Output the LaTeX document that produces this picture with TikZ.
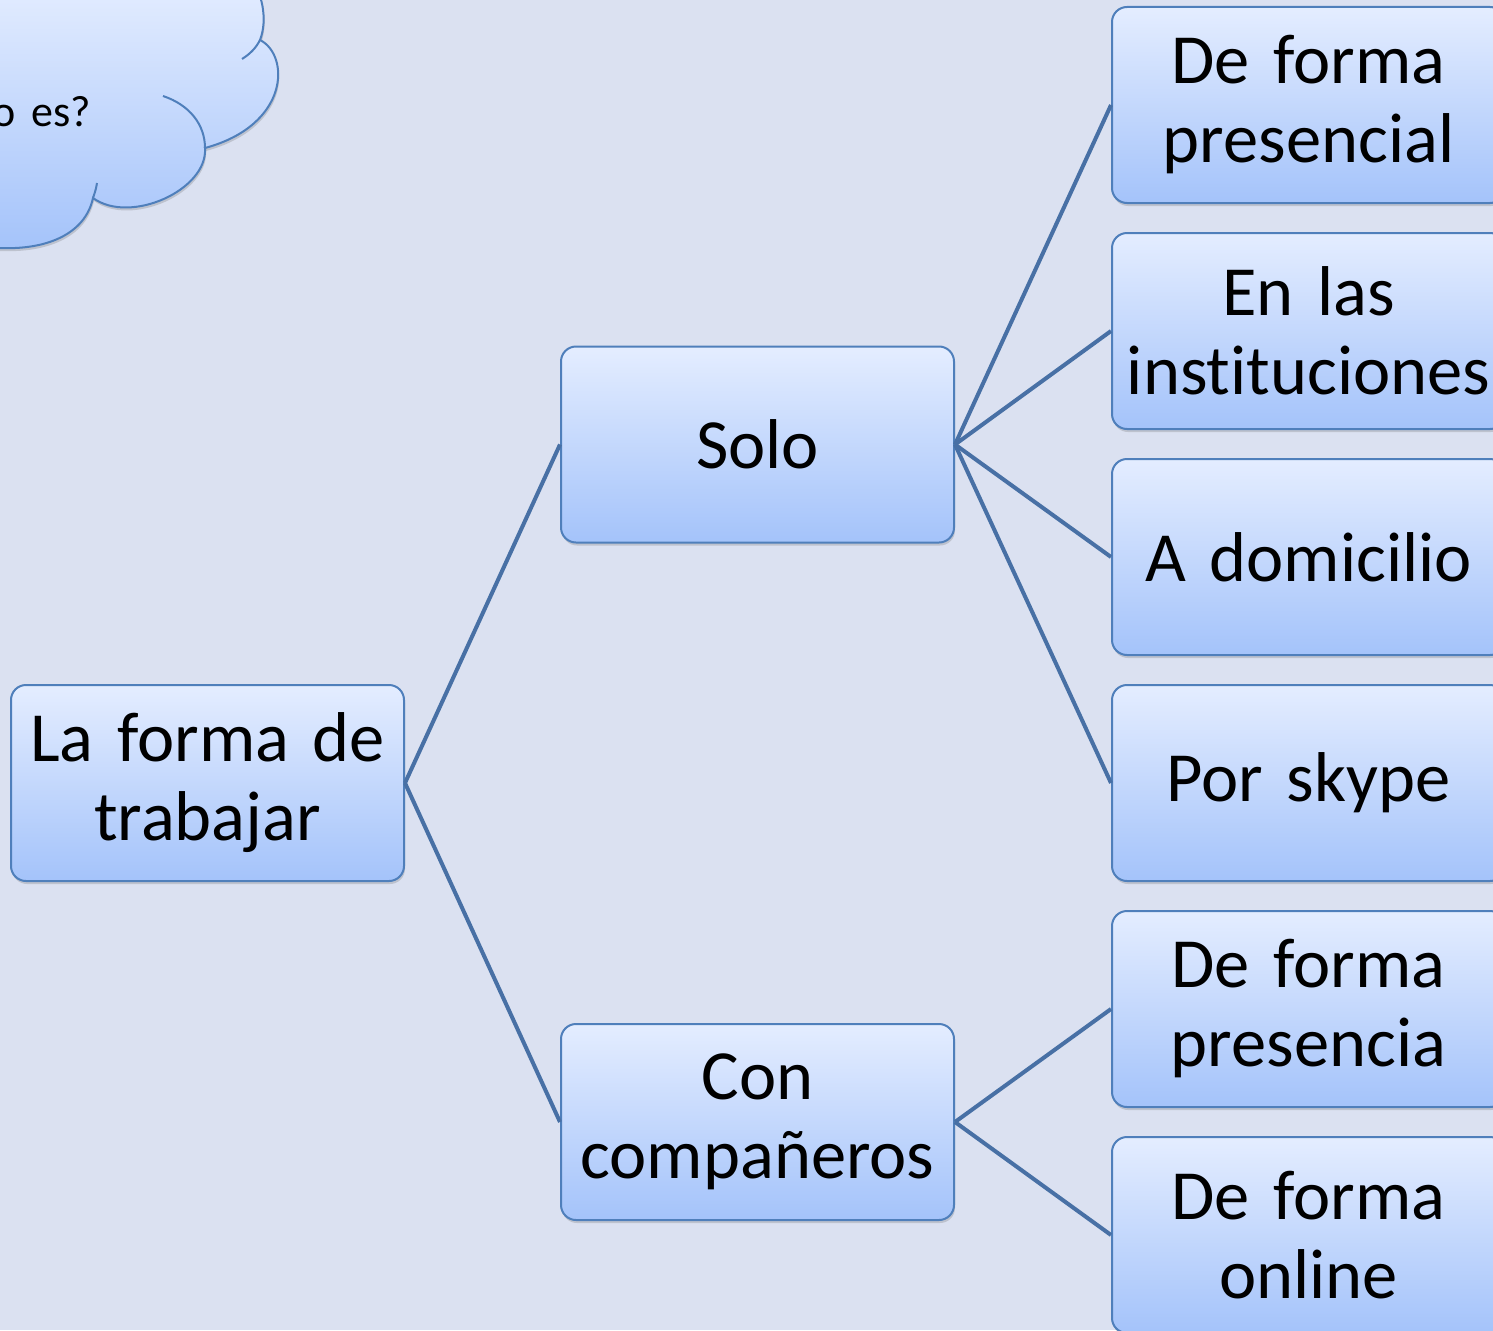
\documentclass[tikz,border=0pt]{standalone}
\usepackage{fontspec}
\setmainfont{Carlito}[Ligatures={NoCommon}, WordSpace={0.8}]
\usetikzlibrary{shadows}
\definecolor{bg}{RGB}{219,225,241}
\definecolor{boxtop}{RGB}{228,237,255}
\definecolor{boxbot}{RGB}{164,195,250}
\definecolor{boxborder}{RGB}{79,127,187}
\definecolor{linkcol}{RGB}{72,112,165}
\begin{document}
\begin{tikzpicture}[x=1pt,y=-1pt,
  box/.style={draw=boxborder, line width=2pt, rounded corners=15pt,
    top color=boxtop, bottom color=boxbot,
    minimum width=393pt, minimum height=196pt, text width=385pt,
    align=center, inner sep=0pt, font=\fontsize{70.5}{79}\selectfont,
    drop shadow={shadow xshift=1pt, shadow yshift=-3pt, opacity=0.25, fill=black!60}},
  link/.style={draw=linkcol, line width=4pt},
  cloudline/.style={draw=boxborder, line width=2pt}]
\useasboundingbox (0,0) rectangle (1493,1330);
\clip (0,0) rectangle (1493,1330);
\fill[bg] (0,0) rectangle (1493,1330);

% cloud
\path[draw=boxborder, line width=2pt, top color=boxtop, bottom color=boxbot,
  drop shadow={shadow xshift=1pt, shadow yshift=-3pt, opacity=0.25, fill=black!60}]
  (-20,-20) -- (250,-20) .. controls (262,-10) and (268,20) .. (260,40)
  .. controls (290,55) and (290,125) .. (205,148)
  .. controls (208,190) and (130,225) .. (93,198)
  .. controls (85,235) and (45,250) .. (0,248) -- (-20,248) -- cycle;
\draw[cloudline] (242,59) .. controls (250,54) and (256,48) .. (260,40);
\draw[cloudline] (163,96) .. controls (190,105) and (205,125) .. (205,148);
\draw[cloudline] (97,183) .. controls (96,190) and (94,195) .. (93,198);
\node[anchor=base east, inner sep=0pt, font=\fontsize{44}{50}\selectfont] (q) at (91,126) {o \hspace{8pt}es?};

% boxes
\node[box] (root) at (207.5,783) {La forma de\\trabajar};
\node[box] (solo) at (757.5,444.5) {Solo};
\node[box] (con) at (757.5,1122) {Con\\compañeros};
\node[box] (r1) at (1308.5,105) {De forma\\presencial};
\node[box] (r2) at (1308.5,331) {En las\\instituciones};
\node[box] (r3) at (1308.5,557) {A domicilio};
\node[box] (r4) at (1308.5,783) {Por skype};
\node[box] (r5) at (1308.5,1009) {De forma\\presencia};
\node[box] (r6) at (1308.5,1235) {De forma\\online};

% connectors
\draw[link] (root.east) -- (solo.west);
\draw[link] (root.east) -- (con.west);
\foreach \t in {r1,r2,r3,r4} \draw[link] (solo.east) -- (\t.west);
\foreach \t in {r5,r6} \draw[link] (con.east) -- (\t.west);
\end{tikzpicture}
\end{document}
